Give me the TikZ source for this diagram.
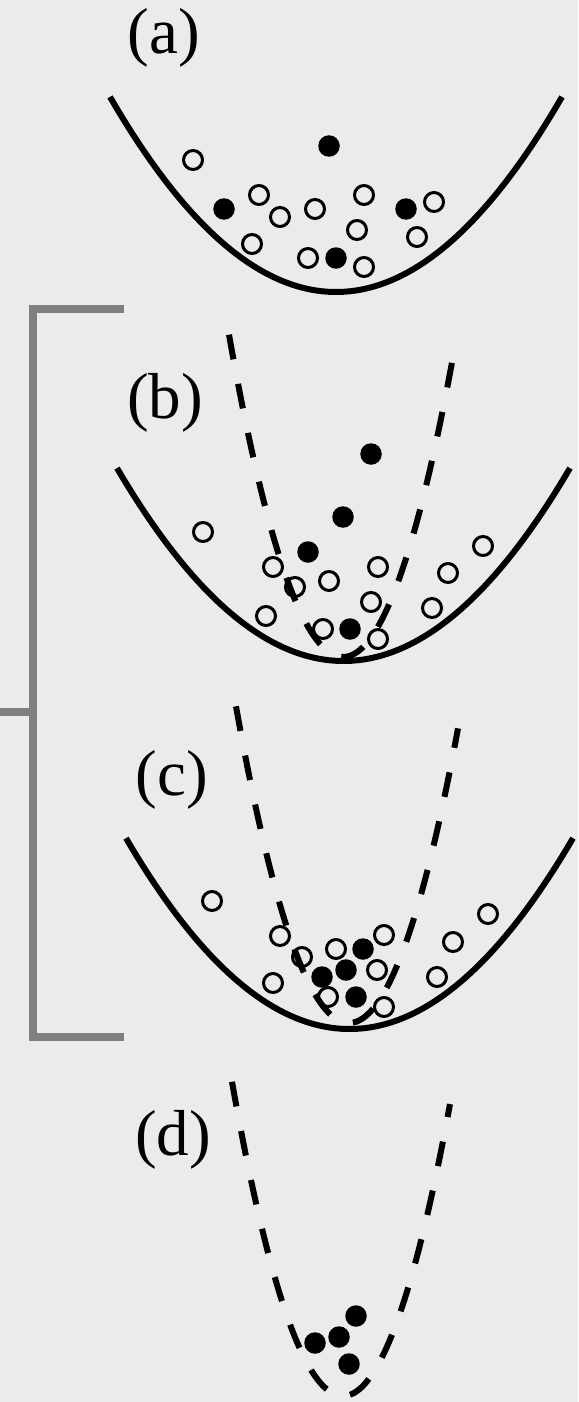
\documentclass[tikz,border=0pt]{standalone}
\usepackage{fontspec}
\setmainfont{Liberation Serif}
\definecolor{paneBack}{HTML}{EBEBEB}
\definecolor{bracketGray}{HTML}{7F7F7F}
\newcommand{\panellabel}[1]{{\fontsize{65}{70}\selectfont #1}}

\begin{document}
\begin{tikzpicture}[
  x=1pt, y=-1pt,
  panel/.style={inner sep=0pt, text=black},
  bowl/.style={draw=black, line width=6pt},
  trap/.style={draw=black, line width=6pt, dash pattern=on 25pt off 25pt},
  opendot/.style={circle, draw=black, line width=3pt, minimum size=19pt, inner sep=0pt},
  solidot/.style={circle, fill=black, minimum size=21.5pt, inner sep=0pt},
  bracket/.style={draw=bracketGray, line width=7.5pt, line join=miter}
]
\useasboundingbox (0,0) rectangle (578,1402);
\fill[paneBack] (0,0) rectangle (578,1402);

% Panel labels.
\node[panel] (lab-a) at (164,38) {\panellabel{(a)}};
\node[panel] (lab-b) at (165,403) {\panellabel{(b)}};
\node[panel] (lab-c) at (172,780) {\panellabel{(c)}};
\node[panel] (lab-d) at (173,1140) {\panellabel{(d)}};

% Bracket joining (b) and (c).
\draw[bracket] (124,309) -- (33,309) -- (33,1037) -- (124,1037);
\draw[bracket] (0,712) -- (33,712);

% Wide solid wells.
\draw[bowl] plot[domain=-226:226, samples=80] ({336+\x},{292-38.2*(\x/100)^2});
\draw[bowl] plot[domain=-226.5:226.5, samples=80] ({343.5+\x},{661-37.6*(\x/100)^2});
\draw[bowl] plot[domain=-223.5:223.5, samples=80] ({349.5+\x},{1029-38.2*(\x/100)^2});

% Panel (a) particles.
\foreach \px/\py [count=\i] in {193/160,259/195,280/217,315/209,364/195,434/202,
    357/230,417/237,252/244,308/258,364/267}
  \node[opendot] (a-open-\i) at (\px,\py) {};
\foreach \px/\py [count=\i] in {329/146,224/209,406/209,336/258}
  \node[solidot] (a-fill-\i) at (\px,\py) {};

% Panel (b) particles.
\foreach \px/\py [count=\i] in {203/532,273/567,295/587,329/581,378/567,448/573,
    483/546,266/616,371/602,432/608,323/629,378/639}
  \node[opendot] (b-open-\i) at (\px,\py) {};
\foreach \px/\py [count=\i] in {371/454,343/517,308/552,350/629}
  \node[solidot] (b-fill-\i) at (\px,\py) {};

% Panel (c) particles.
\foreach \px/\py [count=\i] in {212/901,280/936,302/957,336/949,384/935,377/970,
    273/983,328/997,384/1007,453/942,488/914,437/977}
  \node[opendot] (c-open-\i) at (\px,\py) {};
\foreach \px/\py [count=\i] in {363/949,346/970,322/977,356/997}
  \node[solidot] (c-fill-\i) at (\px,\py) {};

% Panel (d) particles.
\foreach \px/\py [count=\i] in {356/1316,339/1337,315/1343,349/1364}
  \node[solidot] (d-fill-\i) at (\px,\py) {};

% Narrow dashed wells, drawn over the particles.
\draw[trap] plot[domain=-114:110, samples=80] ({343+\x},{657-2.48*(\x/10)^2});
\draw[trap] plot[domain=-113:109, samples=80] ({349+\x},{1023-2.48*(\x/10)^2});
\draw[trap] plot[domain=-111:107, samples=80] ({343+\x},{1396-2.55*(\x/10)^2});

\end{tikzpicture}
\end{document}
